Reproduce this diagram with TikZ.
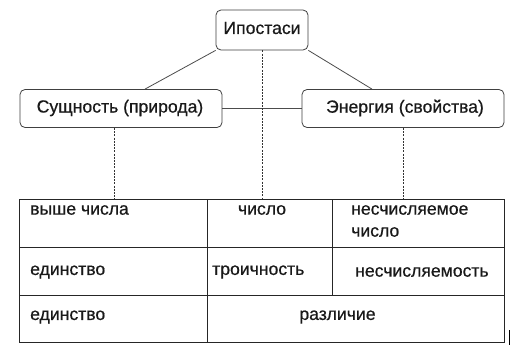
\documentclass[tikz,border=0pt]{standalone}
\usepackage{fontspec}
\setmainfont{Liberation Sans}[FakeBold=0.6]
\begin{document}
\begin{tikzpicture}[x=1pt,y=-1pt,
  hbox/.style={draw=black!75,line width=0.8pt,rounded corners=5pt,fill=white,inner sep=0pt},
  conn/.style={draw=black!70,line width=0.8pt},
  dconn/.style={draw=black!80,line width=0.7pt,dash pattern=on 2pt off 1.2pt},
  cell/.style={draw=black!85,line width=0.9pt,inner sep=0pt,anchor=north west},
  txt/.style={inner sep=0pt,anchor=west,font=\fontsize{17.6}{22}\selectfont,text=black!90},
  btxt/.style={inner sep=0pt,font=\fontsize{17.6}{22}\selectfont,text=black!90}]
\useasboundingbox (0,0) rectangle (527,359);
\fill[white] (0,0) rectangle (527,359);
% boxes
\node[hbox,minimum width=92pt,minimum height=40pt] (top) at (262,30) {};
\node[hbox,minimum width=202pt,minimum height=38pt] (left) at (121,108.5) {};
\node[hbox,minimum width=202pt,minimum height=38pt] (right) at (403,108.5) {};
\node[btxt] (ttop) at (262,28) {Ипостаси};
\node[btxt] (tleft) at (120,108) {Сущность (природа)};
\node[btxt] (tright) at (405,108) {Энергия (свойства)};
% table cells
\node[cell,minimum width=188pt,minimum height=48pt] (c11) at (19,199) {};
\node[cell,minimum width=125pt,minimum height=48pt] (c12) at (207,199) {};
\node[cell,minimum width=172pt,minimum height=48pt] (c13) at (332,199) {};
\node[cell,minimum width=188pt,minimum height=48pt] (c21) at (19,247) {};
\node[cell,minimum width=125pt,minimum height=48pt] (c22) at (207,247) {};
\node[cell,minimum width=172pt,minimum height=48pt] (c23) at (332,247) {};
\node[cell,minimum width=188pt,minimum height=47pt] (c31) at (19,295) {};
\node[cell,minimum width=297pt,minimum height=47pt] (c32) at (207,295) {};
% connectors
\draw[conn] (top.south west) -- ([xshift=24pt]left.north);
\draw[conn] (top.south east) -- ([xshift=-31pt]right.north);
\draw[conn] (left.east) -- (right.west);
\draw[dconn] (top.south) -- (top.south |- c12.north);
\draw[dconn] ([xshift=-7pt]left.south) -- ([xshift=-7pt]left.south |- c11.north);
\draw[dconn] (right.south) -- (right.south |- c13.north);
% table texts
\node[txt] (a1) at (30,210) {выше числа};
\node[btxt] (a2) at (262,210) {число};
\node[txt,align=left] (a3) at (351,221) {несчисляемое\\число};
\node[txt] (b1) at (30,272) {единство};
\node[txt] (b2) at (212,272) {троичность};
\node[txt] (b3) at (355,272) {несчисляемость};
\node[txt] (d1) at (30,317) {единство};
\node[btxt] (d2) at (337.5,317) {различие};
\coordinate (bar) at (509.5,330);
\draw[black,line width=0.9pt] (bar) -- ++(0,15);
\end{tikzpicture}
\end{document}
